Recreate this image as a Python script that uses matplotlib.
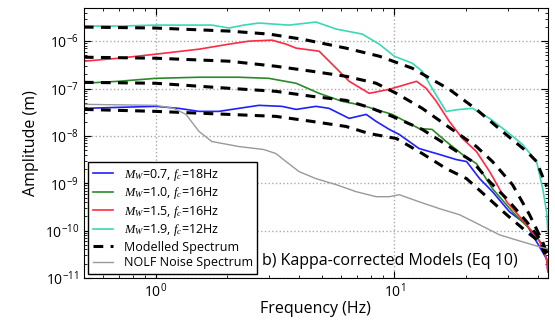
import matplotlib
matplotlib.use("Agg")
from matplotlib import pyplot as plt
from matplotlib import ticker

plt.rcParams['font.family'] = ['Open Sans', 'DejaVu Sans']
plt.rcParams['mathtext.fontset'] = 'custom'
plt.rcParams['mathtext.rm'] = 'Open Sans'
plt.rcParams['mathtext.it'] = 'Liberation Serif:italic'
plt.rcParams['mathtext.bf'] = 'Open Sans:bold'

# observed spectra (frequency in Hz, amplitude in m)
f_m07 = [0.50, 0.70, 1.0, 1.25, 1.52, 1.84, 2.23, 2.71, 3.38, 3.88, 4.70, 5.33, 6.47, 7.63, 8.40,
         9.53, 10.5, 12.7, 15.5, 18.2, 20.1, 22.8, 25.8, 30.4, 35.9, 39.5, 43.5, 44.0]
a_m07 = [3.81e-8, 4.00e-8, 4.20e-8, 3.81e-8, 3.29e-8, 3.29e-8, 3.81e-8, 4.41e-8, 4.20e-8, 3.62e-8,
         4.20e-8, 3.81e-8, 2.34e-8, 2.84e-8, 2.02e-8, 1.37e-8, 1.07e-8, 5.41e-9, 4.04e-9, 3.16e-9,
         2.87e-9, 1.25e-9, 6.64e-10, 2.50e-10, 1.33e-10, 5.79e-11, 2.53e-11, 1.48e-11]

f_m10 = [0.50, 0.70, 1.0, 1.52, 2.23, 2.98, 3.88, 4.84, 6.05, 7.34, 9.81, 12.7, 14.4, 16.5, 19.3,
         22.1, 25.8, 31.3, 38.0, 41.9, 44.0]
a_m10 = [1.29e-7, 1.42e-7, 1.64e-7, 1.73e-7, 1.73e-7, 1.64e-7, 1.29e-7, 7.91e-8, 5.36e-8, 4.41e-8,
         2.84e-8, 1.43e-8, 1.37e-8, 7.61e-9, 4.04e-9, 2.60e-9, 7.69e-10, 2.50e-10, 9.43e-11,
         5.00e-11, 1.98e-11]

f_m15 = [0.50, 0.70, 1.0, 1.52, 2.03, 2.46, 3.07, 3.52, 3.88, 4.84, 5.71, 6.47, 7.85, 9.53, 10.5,
         12.4, 13.6, 15.0, 17.0, 19.3, 22.1, 25.1, 29.6, 35.9, 40.7, 43.5, 44.0]
a_m15 = [3.77e-7, 4.36e-7, 5.30e-7, 6.77e-7, 8.64e-7, 1.0e-6, 1.05e-6, 8.64e-7, 7.11e-7, 6.14e-7,
         2.68e-7, 1.42e-7, 7.91e-8, 9.62e-8, 1.11e-7, 1.42e-7, 1.01e-7, 5.36e-8, 2.02e-8, 8.81e-9,
         4.67e-9, 1.76e-9, 4.07e-10, 1.33e-10, 5.79e-11, 2.53e-11, 1.34e-11]

f_m19 = [0.50, 0.70, 1.0, 1.38, 1.72, 2.03, 2.34, 2.71, 3.62, 4.70, 5.71, 7.34, 8.65, 10.0, 11.9,
         13.1, 14.4, 16.5, 18.8, 21.3, 25.1, 29.6, 34.5, 39.5, 41.9, 43.5, 44.0]
a_m19 = [2.08e-6, 2.08e-6, 2.18e-6, 2.18e-6, 2.18e-6, 1.89e-6, 2.18e-6, 2.41e-6, 2.18e-6, 2.53e-6,
         1.80e-6, 1.41e-6, 8.64e-7, 4.81e-7, 3.42e-7, 2.31e-7, 1.01e-7, 3.29e-8, 3.62e-8, 3.81e-8,
         2.34e-8, 1.24e-8, 6.57e-9, 2.87e-9, 7.69e-10, 2.50e-10, 9.43e-11]

# modelled spectra
f_mod07 = [0.50, 1.0, 2.03, 3.19, 4.52, 6.28, 7.85, 10.2, 13.1, 16.5, 20.1, 24.4, 29.6, 35.9, 40.7, 44.0]
a_mod07 = [3.62e-8, 3.29e-8, 2.84e-8, 2.58e-8, 2.02e-8, 1.58e-8, 1.12e-8, 8.81e-9, 4.24e-9, 2.04e-9,
           1.25e-9, 5.20e-10, 2.16e-10, 9.43e-11, 5.79e-11, 2.41e-11]
f_mod10 = [0.50, 1.0, 2.03, 3.19, 4.52, 6.28, 7.85, 9.81, 13.1, 17.0, 21.3, 25.1, 29.6, 35.9, 40.7, 44.0]
a_mod10 = [1.35e-7, 1.29e-7, 1.01e-7, 8.72e-8, 6.83e-8, 5.62e-8, 4.00e-8, 2.58e-8, 1.37e-8, 5.96e-9,
           2.87e-9, 1.08e-9, 4.72e-10, 1.54e-10, 6.70e-11, 3.22e-11]
f_mod15 = [0.50, 1.0, 2.03, 3.19, 4.52, 6.28, 8.40, 10.2, 13.1, 17.0, 22.1, 25.8, 31.3, 36.9, 41.9, 44.0]
a_mod15 = [4.58e-7, 4.36e-7, 3.77e-7, 2.95e-7, 2.31e-7, 1.81e-7, 1.29e-7, 7.91e-8, 3.81e-8, 1.51e-8,
           5.96e-9, 2.87e-9, 9.34e-10, 2.16e-10, 5.79e-11, 2.79e-11]
f_mod19 = [0.50, 1.0, 2.03, 2.98, 4.11, 6.28, 8.65, 11.9, 17.0, 22.1, 28.4, 35.9, 39.5, 43.5]
a_mod19 = [1.98e-6, 1.89e-6, 1.63e-6, 1.41e-6, 1.10e-6, 7.11e-7, 4.81e-7, 2.68e-7, 9.62e-8, 3.62e-8,
           1.24e-8, 4.67e-9, 2.87e-9, 8.47e-10]

# NOLF station noise
f_noise = [0.50, 1.0, 1.19, 1.34, 1.52, 1.72, 2.23, 2.84, 3.19, 3.52, 3.99, 4.70, 5.71, 6.92, 8.40,
           9.53, 10.5, 12.7, 15.5, 18.8, 22.8, 27.6, 34.5, 40.7, 44.0]
a_noise = [4.63e-8, 4.41e-8, 3.81e-8, 2.84e-8, 1.24e-8, 7.61e-9, 5.96e-9, 5.15e-9, 4.24e-9, 2.87e-9,
           1.76e-9, 1.25e-9, 9.34e-10, 6.64e-10, 5.20e-10, 5.20e-10, 5.73e-10, 4.07e-10, 2.90e-10,
           2.16e-10, 1.33e-10, 8.15e-11, 5.79e-11, 4.54e-11, 4.12e-11]

labels = [r'$M_W$=0.7, $f_c$=18Hz', r'$M_W$=1.0, $f_c$=16Hz',
          r'$M_W$=1.5, $f_c$=16Hz', r'$M_W$=1.9, $f_c$=12Hz']
colors = ['#2020ff', '#2a8a2a', '#ff2a44', '#3ad8b4']

obs = [(f_m07, a_m07), (f_m10, a_m10), (f_m15, a_m15), (f_m19, a_m19)]
mods = [(f_mod07, a_mod07), (f_mod10, a_mod10), (f_mod15, a_mod15), (f_mod19, a_mod19)]

fig = plt.figure(figsize=(5.55, 3.21), dpi=100)
ax = fig.add_axes([0.151, 0.134, 0.836, 0.841])

for (f, a), lab, c in zip(obs, labels, colors):
    ax.plot(f, a, color=c, lw=1.2, label=lab)
for i, (f, a) in enumerate(mods):
    ax.plot(f, a, color='black', lw=2.2, linestyle=(0, (3.2, 2.4)),
            label='Modelled Spectrum' if i == 0 else None)
ax.plot(f_noise, a_noise, color='#999999', lw=1.0, label='NOLF Noise Spectrum')

ax.set_xscale('log')
ax.set_yscale('log')
ax.set_xlim(0.5, 44)
ax.set_ylim(1e-11, 5e-6)
ax.xaxis.set_minor_formatter(ticker.NullFormatter())
ax.yaxis.set_major_locator(ticker.LogLocator(base=10, numticks=12))
ax.yaxis.set_minor_locator(ticker.LogLocator(base=10, subs=range(2, 10), numticks=12))
ax.yaxis.set_minor_formatter(ticker.NullFormatter())
ax.grid(True, which='major', color='#aaaaaa', linestyle=':', lw=1.0)
ax.tick_params(which='both', direction='in', top=True, right=True, labelsize=10)
ax.tick_params(which='major', length=5)
ax.tick_params(which='minor', length=2.5)

ax.set_xlabel('Frequency (Hz)', fontsize=11.5, labelpad=0)
ax.set_ylabel('Amplitude (m)', fontsize=11.5)

leg = ax.legend(loc='lower left', fontsize=9, fancybox=False, edgecolor='black',
                framealpha=1, handlelength=1.6, handletextpad=0.9, labelspacing=0.2,
                borderaxespad=0.35, borderpad=0.35)
leg.get_frame().set_linewidth(1.0)

ax.text(0.384, 0.035, 'b) Kappa-corrected Models (Eq 10)', transform=ax.transAxes,
        fontsize=11.5, ha='left', va='bottom')

fig.savefig('out.png', dpi=100)
